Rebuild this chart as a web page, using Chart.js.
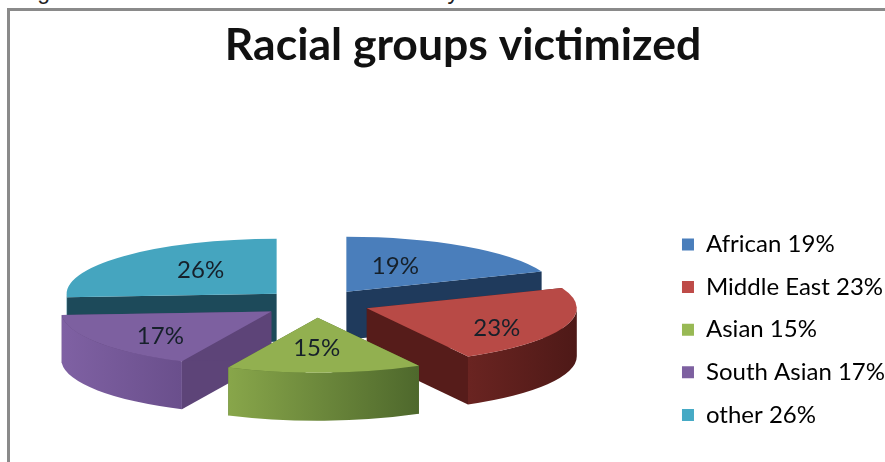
<!DOCTYPE html>
<html><head><meta charset="utf-8">
<style>
html,body{margin:0;padding:0;background:#fff;overflow:hidden}
#wrap{position:relative;width:885px;height:462px;overflow:hidden}
#cap{position:absolute;left:18px;top:-22px;font:23px "Liberation Sans",sans-serif;color:#222;white-space:nowrap}
#frame{position:absolute;left:7px;top:8px;width:885px;height:470px;border:3px solid #8a8a8a;box-sizing:border-box}
canvas{position:absolute;left:0;top:0}
</style>
</head><body>
<div id="wrap">
<div id="cap">Figure 10: Racial Harassment in the survey results</div>
<div id="frame"></div>
<canvas id="c" width="885" height="462"></canvas>
</div>
<script src="https://cdn.jsdelivr.net/npm/chart.js@4"></script>
<script>
const categories = ["African", "Middle East", "Asian", "South Asian", "other"];
const values = [19, 23, 15, 17, 26];
const chartTitle = "Racial groups victimized";

const topColors = ["#4a7ebb", "#b84a46", "#92b050", "#7d60a0", "#45a5bf"];
const legendColors = ["#4a7ebb", "#be4b48", "#98b954", "#7d60a0", "#46aac5"];
const radialWall = ["#1f3a5c", "#561c1a", "#4f6a2d", "#5d4478", "#1d4a5a"];
const outerWall = [["#2a4d78","#1f3a5c"], ["#6a2421","#4e1917"], ["#88a64a","#4e682c"], ["#7f61a3","#6a4f8c"], ["#2f7d94","#1d4a5a"]];
const paintOrder = [4, 0, 3, 1, 2];
const labelShift = [[49,-26],[130,20],[-1,31],[-111,25],[-76,-24]];

const PIE_CX = 316, PIE_CY = 303.5, TILT = 0.262, DEPTH = 48, EXPLODE = 54, RADIUS = 210;

function apex(arc){
  const mid = (arc.startAngle + arc.endAngle) / 2;
  return {x: PIE_CX + Math.cos(mid)*EXPLODE, y: PIE_CY + Math.sin(mid)*EXPLODE*TILT};
}
function rim(p, a, d){ return [p.x + Math.cos(a)*RADIUS, p.y + Math.sin(a)*RADIUS*TILT + (d||0)]; }

const pie3d = {
  id:'pie3d',
  beforeDatasetDraw(chart, args){
    const ctx = chart.ctx, arcs = chart.getDatasetMeta(0).data;
    for (const i of paintOrder){
      const arc = arcs[i], p = apex(arc), s = arc.startAngle, e = arc.endAngle;
      ctx.save();
      // flat cut faces
      ctx.fillStyle = radialWall[i];
      for (const a of [s, e]){
        const [x,y] = rim(p, a);
        ctx.beginPath();
        ctx.moveTo(p.x,p.y); ctx.lineTo(x,y); ctx.lineTo(x,y+DEPTH); ctx.lineTo(p.x,p.y+DEPTH); ctx.closePath();
        ctx.fill();
      }
      // curved outer face: the part turned towards the viewer (canvas angles 0..PI)
      let a0 = s;
      while (a0 > Math.PI) a0 -= 2*Math.PI;
      while (a0 <= -Math.PI) a0 += 2*Math.PI;
      const a1 = a0 + (e - s);
      const from = Math.max(a0, 0), to = Math.min(a1, Math.PI);
      if (to > from){
        const [xa] = rim(p, from), [xb] = rim(p, to);
        const g = ctx.createLinearGradient(Math.min(xa,xb),0,Math.max(xa,xb),0);
        g.addColorStop(0, outerWall[i][0]); g.addColorStop(1, outerWall[i][1]);
        ctx.fillStyle = g;
        ctx.beginPath();
        ctx.ellipse(p.x,p.y,RADIUS,RADIUS*TILT,0,from,to);
        ctx.ellipse(p.x,p.y+DEPTH,RADIUS,RADIUS*TILT,0,to,from,true);
        ctx.closePath(); ctx.fill();
      }
      // top face: the library's own arc element, laid flat
      ctx.translate(p.x, p.y);
      ctx.scale(1, TILT);
      ctx.translate(-arc.x, -arc.y);
      arc.draw(ctx, chart.chartArea);
      ctx.restore();
    }
    // percentage labels
    ctx.save();
    ctx.font = '24px Lato, sans-serif';
    ctx.fillStyle = '#16202a';
    ctx.textAlign = 'center'; ctx.textBaseline = 'middle';
    arcs.forEach((arc,i)=>{
      const p = apex(arc);
      ctx.fillText(values[i] + '%', p.x + labelShift[i][0], p.y + labelShift[i][1]);
    });
    ctx.restore();
    return false;
  }
};

new Chart(document.getElementById('c'), {
  type:'pie',
  plugins:[pie3d],
  data:{
    labels: categories.map((c,i)=> c + ' ' + values[i] + '%'),
    datasets:[{data:values, backgroundColor:topColors, borderWidth:0, radius:RADIUS, clip:false}]
  },
  options:{
    responsive:false, animation:false,
    layout:{padding:{left:31,right:-10,top:0,bottom:0}},
    plugins:{
      tooltip:{enabled:false},
      title:{display:true,text:chartTitle,color:'#111',font:{family:'Lato, sans-serif',size:44.5,weight:'bold'},padding:{top:19,bottom:125}},
      legend:{position:'right',align:'center',fullSize:false,
        labels:{
          generateLabels(chart){
            return chart.data.labels.map((t,i)=>({text:t,fillStyle:legendColors[i],strokeStyle:legendColors[i],lineWidth:0,index:i}));
          },
          boxWidth:12,boxHeight:12,color:'#262626',padding:18.6,font:{family:'Lato, sans-serif',size:24}}}
    }
  }
});
</script>
</body></html>
